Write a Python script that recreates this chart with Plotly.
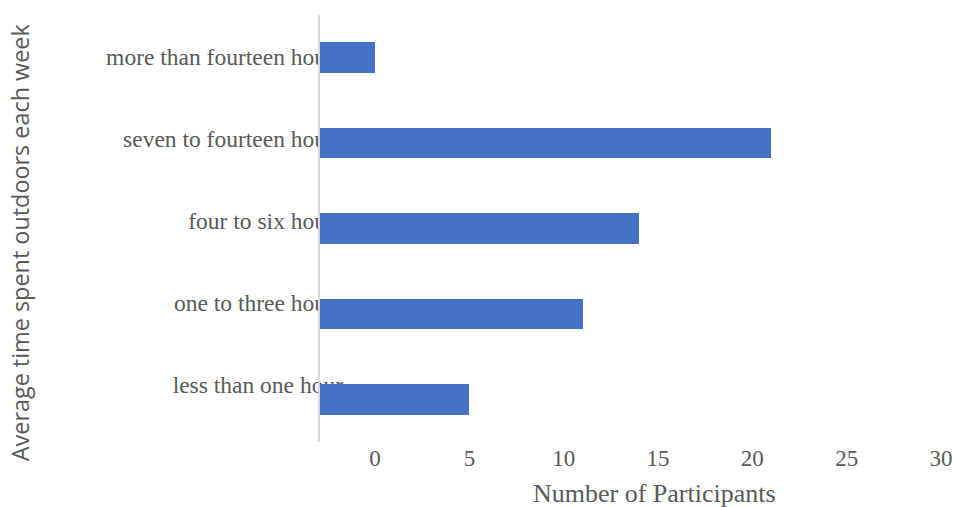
import plotly.graph_objects as go

# Survey responses: weekly time outdoors (bottom to top)
categories = [
    "less than one hour",
    "one to three hours",
    "four to six hours",
    "seven to fourteen hours",
    "more than fourteen hours",
]
participants = [5, 11, 14, 21, 0]

x_ticks = [0, 5, 10, 15, 20, 25, 30]
x_min, x_max = -2.92, 30

BAR_COLOR = "#4472C4"
TEXT_COLOR = "#595959"
SERIF = "Liberation Serif, Times New Roman, serif"
SANS = "Open Sans, sans-serif"

positions = list(range(len(categories)))

fig = go.Figure()

# Bars grow from the left edge of the value axis
fig.add_trace(go.Bar(
    y=positions,
    x=[v - x_min for v in participants],
    base=[x_min] * len(participants),
    orientation="h",
    width=0.36,
    marker=dict(color=BAR_COLOR, line=dict(width=0)),
    yaxis="y",
    hoverinfo="skip",
    showlegend=False,
))

# Invisible carrier for the category label axis
fig.add_trace(go.Scatter(
    y=positions,
    x=[x_min] * len(positions),
    mode="markers",
    marker=dict(opacity=0),
    yaxis="y2",
    hoverinfo="skip",
    showlegend=False,
))

fig.update_layout(
    width=956,
    height=507,
    margin=dict(l=320, r=15, t=15, b=65, autoexpand=False),
    paper_bgcolor="white",
    plot_bgcolor="white",
    bargap=0,
    xaxis=dict(
        range=[x_min, x_max],
        tickvals=x_ticks,
        ticktext=[str(t) for t in x_ticks],
        showgrid=False,
        zeroline=False,
        showline=False,
        ticks="",
        automargin=False,
        tickfont=dict(family=SERIF, size=23, color=TEXT_COLOR),
    ),
    yaxis=dict(
        range=[-0.5, len(categories) - 0.5],
        showticklabels=False,
        showgrid=False,
        zeroline=False,
        showline=True,
        linecolor="#d9d9d9",
        linewidth=2,
        ticks="",
        automargin=False,
    ),
    yaxis2=dict(
        overlaying="y",
        side="left",
        range=[-0.695, 4.512],
        tickvals=positions,
        ticktext=categories,
        showgrid=False,
        zeroline=False,
        showline=False,
        ticks="",
        layer="below traces",
        ticklabelstandoff=-24,
        automargin=False,
        tickfont=dict(family=SERIF, size=23.5, color=TEXT_COLOR),
    ),
    annotations=[
        dict(
            text="Number of Participants",
            xref="paper", yref="paper",
            x=0.539, y=-0.12,
            xanchor="center", yanchor="middle",
            showarrow=False,
            font=dict(family=SERIF, size=26, color=TEXT_COLOR),
        ),
        dict(
            text="Average time spent outdoors each week",
            xref="paper", yref="paper",
            x=-0.483, y=0.468,
            xanchor="center", yanchor="middle",
            textangle=-90,
            showarrow=False,
            font=dict(family=SANS, size=23.4, color=TEXT_COLOR),
        ),
    ],
)

fig.write_html("out.html")
